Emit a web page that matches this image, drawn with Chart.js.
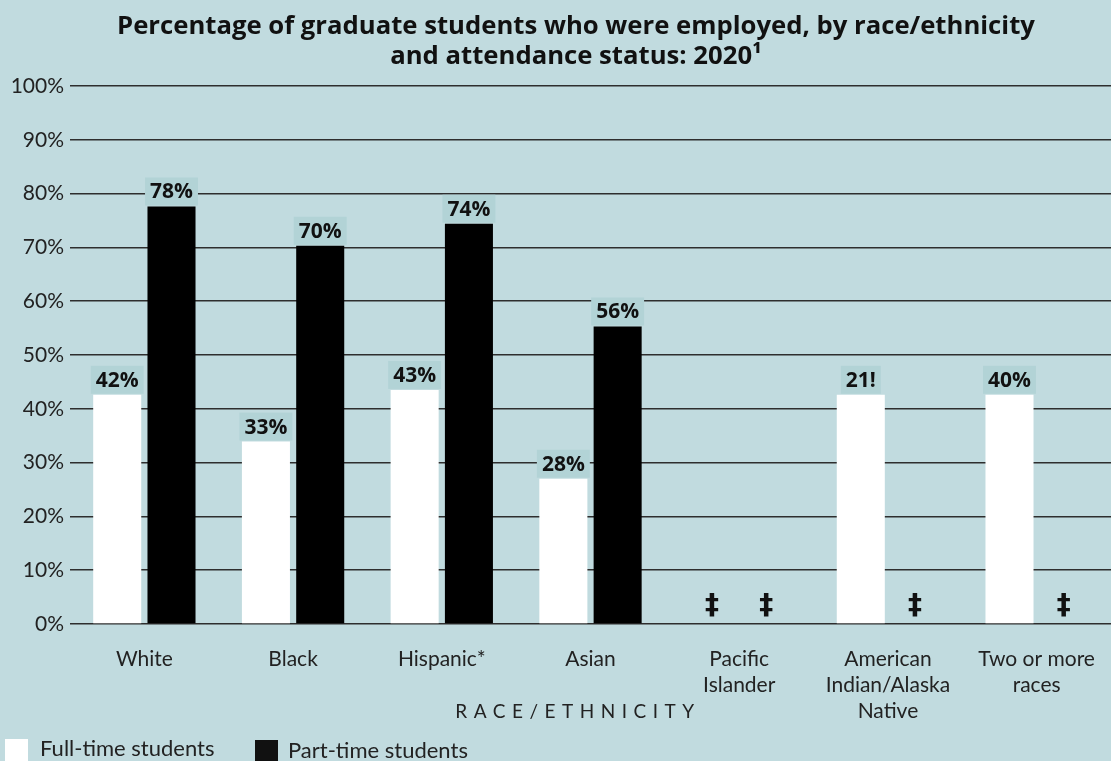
<!DOCTYPE html>
<html lang="en">
<head>
    <meta charset="UTF-8">
    <title>Graduate students employed</title>
    <script src="https://cdn.jsdelivr.net/npm/chart.js@4.4.1/dist/chart.umd.min.js"></script>
    <style>
        html, body { margin: 0; padding: 0; background: #c1dbdf; }
        #wrap { width: 1111px; height: 761px; }
    </style>
</head>
<body>
    <div id="wrap"><canvas id="myChart"></canvas></div>
<script>
    // data (bar heights as drawn, labels as printed)
    let categories = ['White', 'Black', 'Hispanic*', 'Asian', ['Pacific', 'Islander'], ['American', 'Indian/Alaska', 'Native'], ['Two or more', 'races']]
    let fullTime = [42.6, 33.9, 43.5, 27.0, null, 42.6, 42.6]
    let partTime = [77.6, 70.3, 74.4, 55.3, null, null, null]
    let fullLabels = ['42%', '33%', '43%', '28%', '‡', '21!', '40%']
    let partLabels = ['78%', '70%', '74%', '56%', '‡', '‡', '‡']
    let yTicks = [0, 10, 20, 30, 40, 50, 60, 70, 80, 90, 100]

    const BG = '#c1dbdf'
    const FONT = 'Lato, "Open Sans", sans-serif'

    const decor = {
        id: 'decor',
        beforeDraw(chart) {
            const c = chart.ctx
            c.save()
            c.fillStyle = BG
            c.fillRect(0, 0, chart.width, chart.height)
            c.restore()
        },
        afterDatasetsDraw(chart) {
            const c = chart.ctx
            const base = chart.scales.y.getPixelForValue(0)
            const sets = [fullLabels, partLabels]
            c.save()
            sets.forEach((labels, d) => {
                const meta = chart.getDatasetMeta(d)
                meta.data.forEach((bar, i) => {
                    const txt = labels[i]
                    const v = chart.data.datasets[d].data[i]
                    c.textAlign = 'center'
                    c.textBaseline = 'middle'
                    if (v == null) {
                        c.font = 'bold 28px "DejaVu Sans", sans-serif'
                        c.fillStyle = '#111'
                        c.fillText(txt, bar.x, base - 17)
                        return
                    }
                    c.font = 'bold 21px "Open Sans", sans-serif'
                    const w = c.measureText(txt).width + 10
                    const h = 28
                    c.fillStyle = '#b2d3d6'
                    c.fillRect(bar.x - w / 2, bar.y - h - 1, w, h)
                    c.fillStyle = '#111'
                    c.fillText(txt, bar.x, bar.y - h / 2)
                })
            })

            // title
            c.fillStyle = '#111'
            c.textAlign = 'center'
            c.textBaseline = 'middle'
            c.font = 'bold 25.7px "Open Sans", sans-serif'
            c.fillText('Percentage of graduate students who were employed, by race/ethnicity', 576, 27)
            c.fillText('and attendance status: 2020¹', 576, 57)

            // axis title
            c.font = '19px ' + FONT
            c.letterSpacing = '6.5px'
            c.fillStyle = '#222'
            c.fillText('RACE/ETHNICITY', 578, 712)
            c.letterSpacing = '0px'

            // legend
            c.textAlign = 'left'
            c.font = '22px ' + FONT
            c.fillStyle = '#fff'
            c.fillRect(5, 739, 23, 30)
            c.fillStyle = '#111'
            c.fillRect(255, 740, 23, 30)
            c.fillStyle = '#222'
            c.fillText('Full-time students', 40, 749)
            c.fillText('Part-time students', 288, 751)
            c.restore()
        }
    }

    let ctx = document.getElementById('myChart').getContext('2d')
    let chart = new Chart(ctx, {
        type: 'bar',
        data: {
            labels: categories,
            datasets: [{
                label: 'Full-time students',
                backgroundColor: '#ffffff',
                data: fullTime
            }, {
                label: 'Part-time students',
                backgroundColor: '#000000',
                data: partTime
            }]
        },
        options: {
            responsive: true,
            maintainAspectRatio: false,
            animation: false,
            categoryPercentage: 0.73,
            barPercentage: 0.885,
            layout: { padding: { top: 86, left: 0, right: 0, bottom: 0 } },
            plugins: {
                legend: { display: false },
                title: { display: false },
                tooltip: { enabled: false }
            },
            scales: {
                x: {
                    grid: { display: false },
                    border: { display: false },
                    ticks: {
                        color: '#222',
                        font: { family: FONT, size: 21, lineHeight: 1.25 },
                        padding: 14,
                        maxRotation: 0,
                        autoSkip: false
                    },
                    afterFit(axis) { axis.height = 137 }
                },
                y: {
                    min: 0,
                    max: 100,
                    afterBuildTicks(axis) { axis.ticks = yTicks.map(v => ({ value: v })) },
                    grid: { color: '#2e2e2e', lineWidth: 1.5, drawTicks: false },
                    border: { display: false },
                    ticks: {
                        color: '#222',
                        font: { family: FONT, size: 21 },
                        padding: 6,
                        callback: v => v + '%'
                    },
                    afterFit(axis) { axis.width = 70 }
                }
            }
        },
        plugins: [decor]
    })
</script>
</body>
</html>
